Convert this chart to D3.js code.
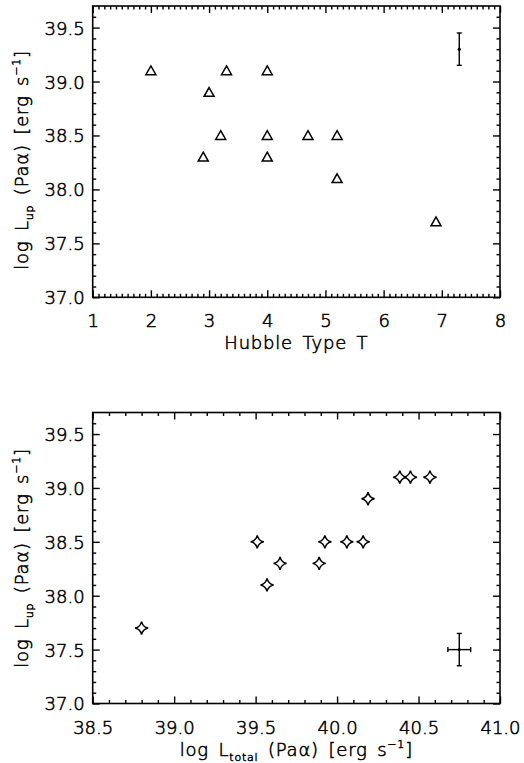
<!DOCTYPE html>
<html><head><meta charset="utf-8">
<script src="https://cdn.jsdelivr.net/npm/d3@7"></script>
<style>
body{margin:0;background:#fff;}
text{font-family:"DejaVu Sans",sans-serif;fill:#000;font-weight:200;stroke:#000;stroke-width:0.55px;}
</style></head>
<body>
<svg id="c" width="524" height="763"></svg>
<script>
// ---- data ----
const hubbleT   = [2.0, 3.0, 3.3, 4.0, 3.2, 2.9, 4.0, 4.0, 4.7, 5.2, 5.2, 6.9];
const logLupTop = [39.1, 38.9, 39.1, 39.1, 38.5, 38.3, 38.5, 38.3, 38.5, 38.5, 38.1, 37.7];
const logLtotal = [38.80, 39.51, 39.57, 39.65, 39.89, 39.925, 40.06, 40.16, 40.19, 40.385, 40.45, 40.57];
const logLupBot = [37.7, 38.5, 38.1, 38.3, 38.3, 38.5, 38.5, 38.5, 38.9, 39.1, 39.1, 39.1];
const errTop = {x: 7.3, y: 39.3, dx: 0, dy: 0.15};
const errBot = {x: 40.75, y: 37.5, dx: 0.07, dy: 0.15};
const yTicks   = [37.0, 37.5, 38.0, 38.5, 39.0, 39.5];
const xTicksTop = [1, 2, 3, 4, 5, 6, 7, 8];
const xTicksBot = [38.5, 39.0, 39.5, 40.0, 40.5, 41.0];

const svg = d3.select("#c");
const L = 92.7, R = 500;

function minors(lo, hi, step){
  const out=[]; const n=Math.round((hi-lo)/step);
  for(let i=1;i<n;i++){ out.push(+(lo+i*step).toFixed(4)); }
  return out;
}

function panel(top, bottom, xDomain, xMajors, xStep, xFmt, xs, ys, err, marker, yLabCenter, xLabelFn){
  const x = d3.scaleLinear().domain(xDomain).range([L, R]);
  const y = d3.scaleLinear().domain([37.0, 39.7]).range([bottom, top]);
  const g = svg.append("g");
  const xMin = minors(xDomain[0], xDomain[1], xStep).filter(v=>!xMajors.some(m=>Math.abs(m-v)<1e-6));
  const yMin = minors(37.0, 39.7, 0.1).filter(v=>!yTicks.some(m=>Math.abs(m-v)<1e-6));
  const yMaj = yTicks;
  function ax(gen, pos, vals, size, fmt){
    const a = g.append("g").attr("transform", pos)
      .call(gen.tickValues(vals).tickSize(size).tickPadding(8).tickFormat(fmt));
    a.select(".domain").remove();
    a.selectAll("line").attr("stroke","#000").attr("stroke-width",1.4);
    a.selectAll("text").attr("font-size",18).attr("font-family","DejaVu Sans").attr("font-weight",200)
      .attr("fill","#000").attr("stroke","#000").attr("stroke-width",0.55);
    return a;
  }
  const none = ()=>"";
  const bx = ax(d3.axisBottom(x), `translate(0,${bottom})`, xMajors, -7, xFmt);
  bx.selectAll("text").attr("dy", null).attr("y", 30);
  ax(d3.axisBottom(x), `translate(0,${bottom})`, xMin, -3.5, none);
  ax(d3.axisTop(x), `translate(0,${top})`, xMajors, -7, none);
  ax(d3.axisTop(x), `translate(0,${top})`, xMin, -3.5, none);
  const lx = ax(d3.axisLeft(y), `translate(${L},0)`, yMaj, -7, d3.format(".1f"));
  lx.selectAll("text").attr("x", -8).attr("dy","0.36em");
  ax(d3.axisLeft(y), `translate(${L},0)`, yMin, -3.5, none);
  ax(d3.axisRight(y), `translate(${R},0)`, yMaj, -7, none);
  ax(d3.axisRight(y), `translate(${R},0)`, yMin, -3.5, none);
  g.append("rect").attr("x",L).attr("y",top).attr("width",R-L).attr("height",bottom-top)
    .attr("fill","none").attr("stroke","#000").attr("stroke-width",1.6);

  const pts = xs.map((v,i)=>({x:v,y:ys[i]}));
  g.selectAll("path.m").data(pts).enter().append("path").attr("class","m")
    .attr("d", marker)
    .attr("transform", d=>`translate(${x(d.x)},${y(d.y)})`)
    .attr("fill","none").attr("stroke","#000").attr("stroke-width",1.5).attr("stroke-linejoin","miter");

  const e = g.append("g").attr("stroke","#000").attr("stroke-width",1.4);
  const cx = x(err.x), cy = y(err.y);
  e.append("line").attr("x1",cx).attr("x2",cx).attr("y1",y(err.y-err.dy)).attr("y2",y(err.y+err.dy));
  e.append("line").attr("x1",cx-2.5).attr("x2",cx+2.5).attr("y1",y(err.y-err.dy)).attr("y2",y(err.y-err.dy));
  e.append("line").attr("x1",cx-2.5).attr("x2",cx+2.5).attr("y1",y(err.y+err.dy)).attr("y2",y(err.y+err.dy));
  if(err.dx>0){
    e.append("line").attr("x1",x(err.x-err.dx)).attr("x2",x(err.x+err.dx)).attr("y1",cy).attr("y2",cy);
    e.append("line").attr("x1",x(err.x-err.dx)).attr("x2",x(err.x-err.dx)).attr("y1",cy-2.5).attr("y2",cy+2.5);
    e.append("line").attr("x1",x(err.x+err.dx)).attr("x2",x(err.x+err.dx)).attr("y1",cy-2.5).attr("y2",cy+2.5);
  }
  g.append("circle").attr("cx",cx).attr("cy",cy).attr("r",1.6).attr("fill","#000");

  const yl = g.append("text").attr("font-size",18).attr("text-anchor","middle")
    .attr("letter-spacing",0.8).attr("word-spacing",3)
    .attr("transform",`translate(28,${yLabCenter}) rotate(-90)`);
  yl.append("tspan").text("log L");
  yl.append("tspan").attr("font-size",11).attr("dy",5).text("up");
  yl.append("tspan").attr("dy",-5).text(" (Paα) [erg s");
  yl.append("tspan").attr("font-size",11).attr("dy",-8).text("−1");
  yl.append("tspan").attr("dy",8).text("]");

  const xl = g.append("text").attr("font-size",18).attr("text-anchor","middle")
    .attr("letter-spacing",0.8).attr("word-spacing",3)
    .attr("x",(L+R)/2).attr("y",bottom+52);
  xLabelFn(xl);
}

const tri = "M0,-4.8 L5,4 L-5,4 Z";
const star = "M0,-6.5 Q1.2,-1.2 6.5,0 Q1.2,1.2 0,6.5 Q-1.2,1.2 -6.5,0 Q-1.2,-1.2 0,-6.5 Z";

panel(6, 297.3, [1, 8], xTicksTop, 0.1, d3.format("d"), hubbleT, logLupTop, errTop, tri, 160,
  t=>{ t.text("Hubble Type T"); });
panel(412.5, 703.5, [38.5, 41.0], xTicksBot, 0.1, d3.format(".1f"), logLtotal, logLupBot, errBot, star, 558,
  t=>{
    t.append("tspan").text("log L");
    t.append("tspan").attr("font-size",11).attr("dy",5).text("total");
    t.append("tspan").attr("dy",-5).text(" (Paα) [erg s");
    t.append("tspan").attr("font-size",11).attr("dy",-8).text("−1");
    t.append("tspan").attr("dy",8).text("]");
  });
</script>
</body></html>
